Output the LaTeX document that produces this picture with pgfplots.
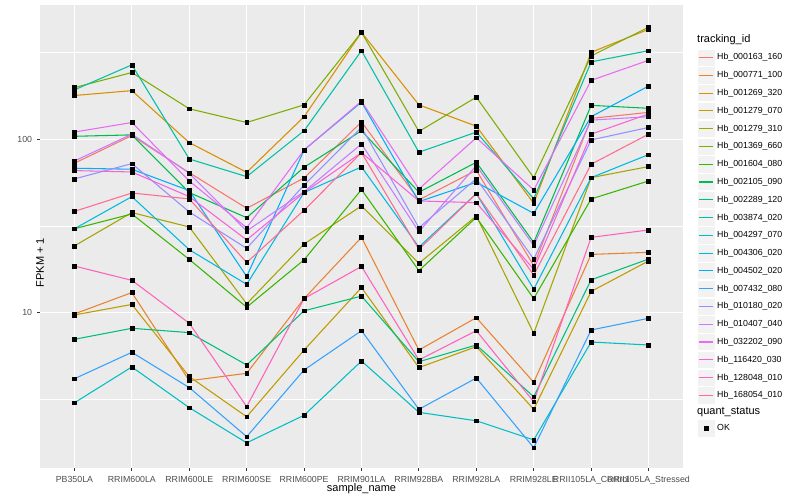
\documentclass[border=0pt]{standalone}
\usepackage{fontspec}
\setmainfont{Liberation Sans}
\usepackage{pgfplots}
\usepackage{pgfplotstable}
\pgfplotsset{compat=1.18}

% ggplot hue palette, 20 groups
\definecolor{col1}{HTML}{F8766D}
\definecolor{col2}{HTML}{EA8331}
\definecolor{col3}{HTML}{D89000}
\definecolor{col4}{HTML}{C09B00}
\definecolor{col5}{HTML}{A3A500}
\definecolor{col6}{HTML}{7CAE00}
\definecolor{col7}{HTML}{39B600}
\definecolor{col8}{HTML}{00BB4E}
\definecolor{col9}{HTML}{00BF7D}
\definecolor{col10}{HTML}{00C1A3}
\definecolor{col11}{HTML}{00BFC4}
\definecolor{col12}{HTML}{00BAE0}
\definecolor{col13}{HTML}{00B0F6}
\definecolor{col14}{HTML}{35A2FF}
\definecolor{col15}{HTML}{9590FF}
\definecolor{col16}{HTML}{C77CFF}
\definecolor{col17}{HTML}{E76BF3}
\definecolor{col18}{HTML}{FA62DB}
\definecolor{col19}{HTML}{FF62BC}
\definecolor{col20}{HTML}{FF6C91}
\definecolor{ggpanel}{HTML}{EBEBEB}
\definecolor{ggkey}{HTML}{F2F2F2}
\definecolor{ggtext}{HTML}{4D4D4D}
\definecolor{ggtick}{HTML}{333333}

% FPKM + 1, one column per tracking_id, rows = samples 0..10
\pgfplotstableread{
x c1 c2 c3 c4 c5 c6 c7 c8 c9 c10 c11 c12 c13 c14 c15 c16 c17 c18 c19 c20
0 72.7 9.78 179 9.65 24.2 199 30.4 104 6.98 193 3.00 30.4 68.0 4.13 59.0 74.9 110 65.9 18.5 38.3
1 105 13.0 191 11.1 37.7 243 37.0 106 8.08 269 4.83 46.6 67.1 5.87 72.3 107 125 64.7 15.3 48.9
2 64.1 4.02 95.6 4.25 31.1 150 20.2 49.2 7.63 76.9 2.81 23.0 50.5 3.67 38.0 63.6 57.4 46.6 8.64 45.2
3 39.9 4.44 64.4 2.49 11.2 125 10.7 35.2 4.96 60.8 1.76 14.5 16.1 1.91 23.4 29.5 30.8 26.2 2.85 19.4
4 59.7 12.0 135 6.05 24.8 158 20.1 68.9 10.2 112 2.54 49.2 86.7 4.64 54.4 49.8 86.7 49.2 12.0 38.9
5 126 27.1 415 13.9 41.2 415 51.2 112 12.4 325 5.23 69.2 164 7.83 117 93.9 166 83.7 18.4 83.7
6 44.6 6.05 158 4.79 19.2 111 17.4 49.4 5.18 84.1 2.64 23.8 43.6 2.75 30.8 29.2 51.6 44.0 5.30 23.1
7 66.2 9.31 119 6.33 36.0 175 35.4 73.6 6.47 110 2.36 48.5 56.4 4.17 59.2 70.4 102 43.0 7.83 48.5
8 18.6 3.94 42.6 2.75 7.56 60.0 12.0 25.3 3.25 45.2 1.83 13.6 37.3 1.65 20.3 24.3 50.9 17.7 3.04 16.4
9 132 21.6 318 13.2 60.0 303 45.2 157 15.4 280 6.73 60.0 135 7.90 99.1 129 219 107 27.1 71.7
10 143 22.2 432 19.8 69.5 444 57.4 151 20.3 325 6.47 81.5 203 9.23 117 135 286 140 29.9 107
}\fpkm

\begin{document}
\begin{tikzpicture}
\useasboundingbox (0,0) rectangle (800bp,500bp);
\begin{axis}[
    at={(40bp,32bp)}, anchor=south west,
    scale only axis, width=643bp, height=463bp,
    xmin=-0.6, xmax=10.6,
    ymode=log, ymin=1.259, ymax=597,
    xtick={0,...,10},
    xticklabels={PB350LA,RRIM600LA,RRIM600LE,RRIM600SE,RRIM600PE,RRIM901LA,RRIM928BA,RRIM928LA,RRIM928LE,RRII105LA\_Control,RRII105LA\_Stressed},
    ytick={10,100}, yticklabels={10,100},
    minor ytick={3.1623,31.623,316.23},
    xtick pos=lower, ytick pos=left,
    grid=both,
    major grid style={white, line width=1.07bp},
    minor grid style={white, line width=0.53bp},
    axis line style={draw=none},
    axis background/.style={fill=ggpanel},
    tick align=outside, major tick length=2.75bp, minor tick length=0pt,
    tick style={ggtick, line width=1.07bp},
    xticklabel style={font=\fontsize{8.8bp}{10bp}\selectfont, text=ggtext, inner sep=0pt, yshift=-4.95bp},
    yticklabel style={font=\fontsize{8.8bp}{10bp}\selectfont, text=ggtext, inner sep=0pt, xshift=-4.95bp},
    xlabel={sample\_name}, ylabel={FPKM + 1},
    every axis x label/.style={at={(axis description cs:0.5,0)}, anchor=center, yshift=-21bp, font=\fontsize{11bp}{13bp}\selectfont},
    every axis y label/.style={at={(axis description cs:0,0.5)}, rotate=90, anchor=center, xshift=-26bp, font=\fontsize{11bp}{13bp}\selectfont},
    legend style={at={(1,1)}, anchor=north west, xshift=14.3bp, yshift=-43.66bp,
        draw=none, fill=none, inner sep=0pt, outer sep=0pt, row sep=0pt, column sep=2.1bp,
        font=\fontsize{8.8bp}{10bp}\selectfont, nodes={inner sep=0pt}},
    legend cell align=left,
    legend image code/.code={
        \filldraw[fill=ggkey, draw=white, line width=0.5bp] (0bp,-8.64bp) rectangle (17.28bp,8.64bp);
        \draw[#1, line width=1.07bp] (1.7bp,0bp) -- (15.58bp,0bp);},
    legend entries={Hb\_000163\_160,Hb\_000771\_100,Hb\_001269\_320,Hb\_001279\_070,Hb\_001279\_310,Hb\_001369\_660,Hb\_001604\_080,Hb\_002105\_090,Hb\_002289\_120,Hb\_003874\_020,Hb\_004297\_070,Hb\_004306\_020,Hb\_004502\_020,Hb\_007432\_080,Hb\_010180\_020,Hb\_010407\_040,Hb\_032202\_090,Hb\_116420\_030,Hb\_128048\_010,Hb\_168054\_010},
]
\pgfplotsinvokeforeach{1,...,20}{
    \addplot[col#1, line width=1.07bp, line join=round, mark=none] table[x=x, y=c#1]{\fpkm};
}
\pgfplotsinvokeforeach{1,...,20}{
    \addplot[only marks, mark=square*, mark size=1.9bp, black, forget plot] table[x=x, y=c#1]{\fpkm};
}
\end{axis}
% second legend: quant_status
\begin{axis}[
    at={(40bp,32bp)}, anchor=south west,
    scale only axis, width=643bp, height=463bp, hide axis,
    xmin=0, xmax=1, ymin=0, ymax=1,
    legend style={at={(1,1)}, anchor=north west, xshift=14.3bp, yshift=-414.4bp,
        draw=none, fill=none, inner sep=0pt, outer sep=0pt, column sep=2.1bp,
        font=\fontsize{8.8bp}{10bp}\selectfont, nodes={inner sep=0pt}},
    legend cell align=left,
    legend image code/.code={
        \filldraw[fill=ggkey, draw=white, line width=0.5bp] (0bp,-8.64bp) rectangle (17.28bp,8.64bp);
        \draw[#1] plot coordinates {(8.64bp,0bp)};},
]
\addlegendimage{only marks, mark=square*, mark size=1.9bp, black}
\addlegendentry{OK}
\end{axis}
\node[anchor=west, font=\fontsize{11bp}{13bp}\selectfont, inner sep=0pt] at (697bp,460bp) {tracking\_id};
\node[anchor=west, font=\fontsize{11bp}{13bp}\selectfont, inner sep=0pt] at (697bp,88bp) {quant\_status};
\end{tikzpicture}
\end{document}
